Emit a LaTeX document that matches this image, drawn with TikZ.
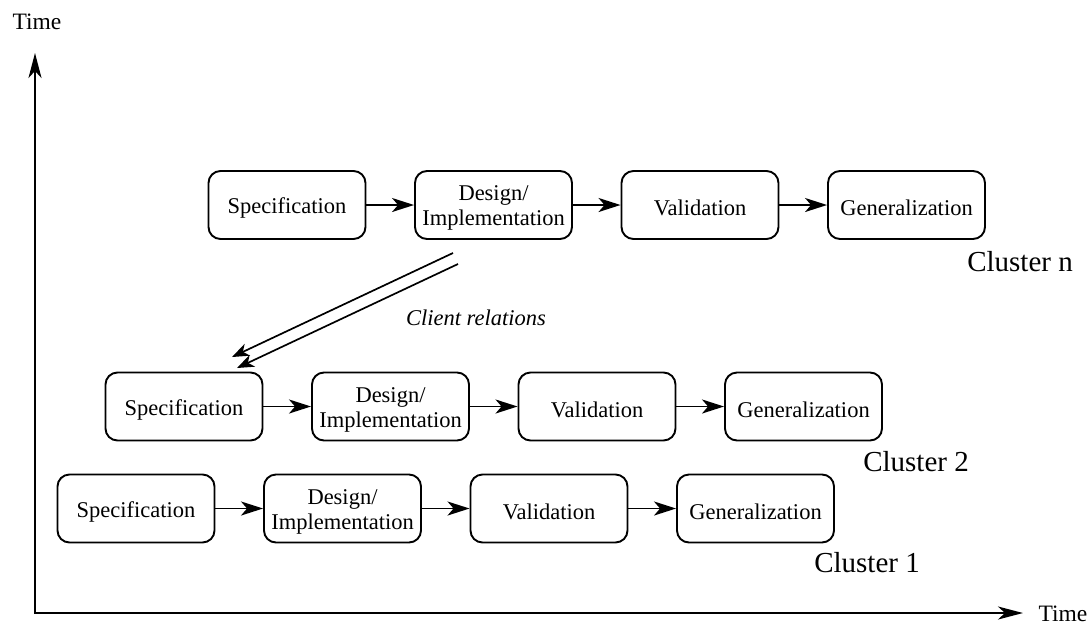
\documentclass[tikz,border=0pt]{standalone}
\usepackage{fontspec}
\setmainfont{Liberation Serif}
\usetikzlibrary{arrows.meta}
\begin{document}
\begin{tikzpicture}[x=1pt,y=-1pt,
  stage/.style={draw, line width=1.9pt, rounded corners=12pt,
    minimum width=157pt, minimum height=68pt, inner sep=2pt},
  stagetext/.style={font=\fontsize{22.5}{25}\selectfont, align=center,
    inner sep=0pt, yshift=-3pt},
  flow/.style={line width=1.9pt, -{Stealth[length=22pt,width=14pt,inset=6pt]}},
  relation/.style={line width=1.7pt, -{Stealth[length=17pt,width=13pt,inset=5pt]}},
  axis/.style={line width=2pt,
    {Stealth[length=25pt,width=13pt,inset=7pt]}-{Stealth[length=25pt,width=13pt,inset=7pt]}},
  clabel/.style={font=\fontsize{29}{31}\selectfont, inner sep=0pt},
  tlabel/.style={font=\fontsize{23.5}{25}\selectfont, inner sep=0pt},
]
\useasboundingbox (0,0) rectangle (1091,625);

% time axes
\coordinate (ytop) at (35,53);
\coordinate (origin) at (35,613);
\coordinate (xend) at (1023,613);
\draw[axis] (ytop) -- (origin) -- (xend);
\node[tlabel] (ylab) at (37,22) {Time};
\node[tlabel] (xlab) at (1063,614) {Time};

% one row of development stages per cluster
\foreach \r/\x/\y in {n/287/205, 2/184/406.5, 1/136/508.5} {
  \node[stage, label={[stagetext]center:Specification}] (spec\r) at (\x,\y) {};
  \node[stage, label={[stagetext]center:Design/\\Implementation}] (des\r) at (\x+206.5,\y) {};
  \node[stage, label={[stagetext]center:Validation}] (val\r) at (\x+413,\y) {};
  \node[stage, label={[stagetext]center:Generalization}] (gen\r) at (\x+619.5,\y) {};
  \draw[flow] (spec\r) -- (des\r);
  \draw[flow] (des\r) -- (val\r);
  \draw[flow] (val\r) -- (gen\r);
}

\node[clabel] (cln) at (1020,262) {Cluster n};
\node[clabel] (cl2) at (916,462) {Cluster 2};
\node[clabel] (cl1) at (867,563) {Cluster 1};

% client relations between clusters
\coordinate (crA) at (453,253);
\coordinate (crB) at (232,357);
\coordinate (crC) at (458,264);
\coordinate (crD) at (237,368);
\draw[relation] (crA) -- (crB);
\draw[relation] (crC) -- (crD);
\node[font=\fontsize{22.5}{24}\selectfont\itshape, inner sep=0pt] (crlab) at (476,318) {Client relations};
\end{tikzpicture}
\end{document}
